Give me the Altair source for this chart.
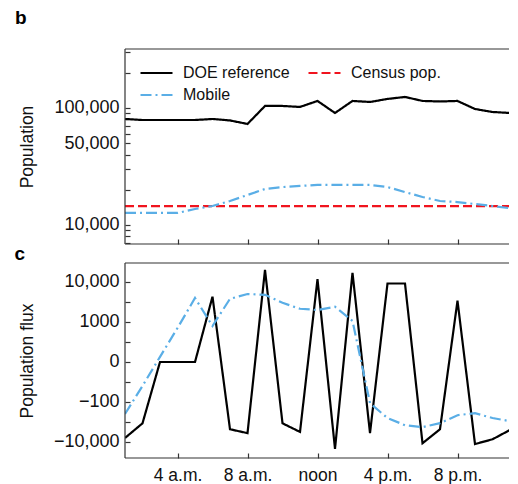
import altair as alt
import pandas as pd

FONT = "Liberation Sans"

hours = list(range(1, 25))
doe_pop = [80500, 78900, 78900, 78900, 78900, 80500, 78200, 73000, 104000, 104000, 102000, 114800,
           90600, 114800, 112500, 119400, 124200, 114800, 113600, 114800, 98000, 92400, 90600, 82000]
mobile_pop = [12670, 12670, 12670, 12670, 13700, 14530, 16030, 18050, 20300, 21100, 21550, 22000,
              22000, 22000, 22000, 21100, 19100, 17350, 16030, 15700, 15100, 14530, 13900, 12900]
census_pop = 14500
census_hours = [1, 24]

doe_flux = [-8000, -3500, 0, 0, 0, 4400, -4900, -6100, 19500, -3500, -5700, 11700,
            -14600, 16700, -6100, 9200, 9200, -10700, -4900, 3500, -11200, -8600, -5100, -5100]
mobile_flux = [-2050, -340, 41, 684, 4080, 778, 3900, 5110, 4890, 3100, 2200, 2050,
               2470, 1076, -1076, -2590, -3900, -4360, -3475, -2200, -1950, -2590, -3100, -3250]

# legend entries are laid out column by column
series_order = ["DOE reference", "Mobile", "Census pop."]
series_colors = ["#000000", "#5aaee6", "#f0141e"]
series_dash = [[1, 0], [11, 4, 2, 4], [9, 4]]

hour_ticks = [4, 8, 12, 16, 20]
hour_labels = ["4 a.m.", "8 a.m.", "noon", "4 p.m.", "8 p.m."]

pop_ticks = [7000, 8000, 9000, 10000, 20000, 30000, 40000, 50000, 60000, 70000, 80000, 90000,
             100000, 200000, 300000]
pop_label_values = [10000, 50000, 100000]
pop_label_texts = ["10,000", "50,000", "100,000"]

flux_ticks = [10000, 3250, 1000, 250, 0, -250, -1000, -3250, -10000]
flux_label_values = [10000, 1000, 0, -1000, -10000]
flux_label_texts = ["10,000", "1000", "0", "\u2212100", "\u221210,000"]


def label_expr(values, texts):
    parts = [f"datum.value == {v} ? '{t}'" for v, t in zip(values, texts)]
    return " : ".join(parts) + " : ''"


top_rows = []
for h, v in zip(hours, doe_pop):
    top_rows.append({"hour": h, "value": v, "series": "DOE reference"})
for h in census_hours:
    top_rows.append({"hour": h, "value": census_pop, "series": "Census pop."})
for h, v in zip(hours, mobile_pop):
    top_rows.append({"hour": h, "value": v, "series": "Mobile"})
top_df = pd.DataFrame(top_rows)

bot_rows = []
for h, v in zip(hours, doe_flux):
    bot_rows.append({"hour": h, "value": v, "series": "DOE reference"})
for h, v in zip(hours, mobile_flux):
    bot_rows.append({"hour": h, "value": v, "series": "Mobile"})
bot_df = pd.DataFrame(bot_rows)

W, H = 384, 195
x_scale = alt.Scale(domain=[1, 1 + W / 17.5], nice=False, zero=False)
color_scale = alt.Scale(domain=series_order, range=series_colors)
dash_scale = alt.Scale(domain=series_order, range=series_dash)

legend_kw = dict(
    title=None, orient="none", legendX=14, legendY=16, columns=2, columnPadding=17,
    rowPadding=6, clipHeight=16, symbolType="stroke", symbolSize=1024, symbolStrokeWidth=2.2,
    labelOffset=9, labelFontSize=16, labelFont=FONT, labelColor="#111",
)

FRAME = "#333"


def frame_layers():
    one = alt.Data(values=[{"k": 0}])
    base = alt.Chart(one).mark_rule(color=FRAME, strokeWidth=1.2)
    top_edge = base.encode(x=alt.value(0), x2=alt.value(W), y=alt.value(0))
    bottom_edge = base.encode(x=alt.value(0), x2=alt.value(W), y=alt.value(H))
    left_edge = base.encode(x=alt.value(0), y=alt.value(0), y2=alt.value(H))
    return [top_edge, bottom_edge, left_edge]


top_lines = alt.Chart(top_df).mark_line(clip=True, strokeWidth=2.2).encode(
    x=alt.X("hour:Q", scale=x_scale,
            axis=alt.Axis(values=hour_ticks, labels=False, title=None, offset=-5, tickSize=5)),
    y=alt.Y("value:Q",
            scale=alt.Scale(type="log", domain=[6880, 319000], nice=False),
            axis=alt.Axis(values=pop_ticks, labelExpr=label_expr(pop_label_values, pop_label_texts),
                          title="Population", offset=-5, tickSize=5, labelPadding=6,
                          labelFontSize=18, titleFontSize=17.5, titlePadding=17)),
    color=alt.Color("series:N", scale=color_scale, legend=alt.Legend(**legend_kw)),
    strokeDash=alt.StrokeDash("series:N", scale=dash_scale, legend=alt.Legend(**legend_kw)),
)

top = alt.layer(top_lines, *frame_layers()).properties(
    width=W, height=H,
    title=alt.Title("b", anchor="start", frame="bounds", fontSize=19, fontWeight="bold",
                    baseline="bottom", offset=1.5, dx=-4, font=FONT, color="#000"),
)

bottom_lines = alt.Chart(bot_df).mark_line(clip=True, strokeWidth=2.2).encode(
    x=alt.X("hour:Q", scale=x_scale,
            axis=alt.Axis(values=hour_ticks, labelExpr=label_expr(hour_ticks, hour_labels),
                          title=None, offset=-5, tickSize=5, labelPadding=8, labelFontSize=17.5)),
    y=alt.Y("value:Q",
            scale=alt.Scale(type="symlog", constant=125, domain=[-24263, 28625], nice=False, zero=False),
            axis=alt.Axis(values=flux_ticks, labelExpr=label_expr(flux_label_values, flux_label_texts),
                          title="Population flux", offset=-5, tickSize=5, labelPadding=6,
                          labelFontSize=18, titleFontSize=17.5, titlePadding=17)),
    color=alt.Color("series:N", scale=color_scale, legend=None),
    strokeDash=alt.StrokeDash("series:N", scale=dash_scale, legend=None),
)

bottom = alt.layer(bottom_lines, *frame_layers()).properties(
    width=W, height=H,
    title=alt.Title("c", anchor="start", frame="bounds", fontSize=19, fontWeight="bold",
                    baseline="bottom", offset=-21, dx=-4, font=FONT, color="#000"),
)

chart = alt.vconcat(top, bottom, spacing=0).resolve_scale(
    color="independent", strokeDash="independent"
).properties(
    padding={"left": 6, "top": 0, "right": 0, "bottom": 0}
).configure_view(
    strokeWidth=0
).configure_axis(
    labelFont=FONT, titleFont=FONT, labelColor="#111", titleColor="#111",
    tickColor=FRAME, tickWidth=1.2, grid=False, domain=False, titleFontWeight="normal",
).configure_title(font=FONT)

chart.save("out.html", embed_options={"renderer": "svg", "actions": False})
